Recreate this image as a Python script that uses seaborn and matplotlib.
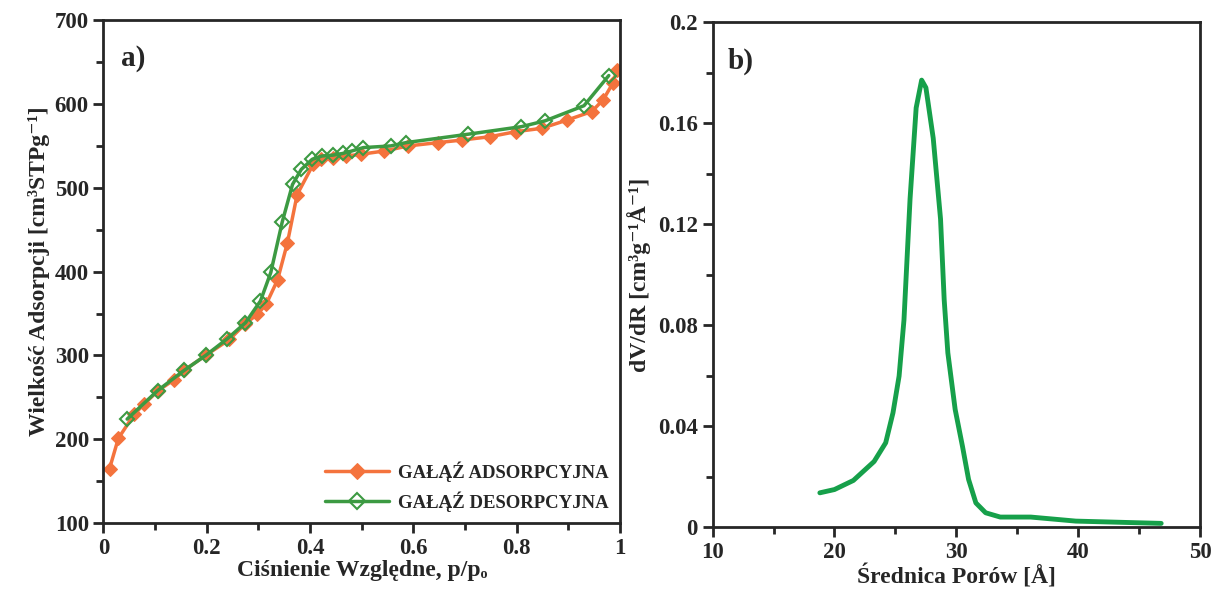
import numpy as np
import pandas as pd
import seaborn as sns
import matplotlib.pyplot as plt
from matplotlib.ticker import MultipleLocator

# =========================
# Data
# =========================

# a) isotherm - adsorption branch
ads_p = [0.012, 0.029, 0.06, 0.079, 0.106, 0.137, 0.156, 0.198, 0.244, 0.275, 0.298,
         0.315, 0.337, 0.356, 0.375, 0.406, 0.421, 0.444, 0.47, 0.498, 0.544, 0.59,
         0.648, 0.694, 0.748, 0.798, 0.848, 0.898, 0.945, 0.967, 0.986, 0.994]
ads_v = [165, 201, 230, 242, 258, 271, 282, 300, 319, 338, 349,
         361, 390, 434, 492, 528, 534, 536, 538, 540, 544, 550,
         554, 557, 561, 567, 571, 581, 591, 605, 625, 641]

# a) isotherm - desorption branch
des_p = [0.046, 0.105, 0.156, 0.198, 0.24, 0.275, 0.304, 0.324, 0.346, 0.366, 0.383,
         0.404, 0.423, 0.444, 0.463, 0.481, 0.503, 0.556, 0.586, 0.706, 0.809, 0.855,
         0.93, 0.978]
des_v = [224, 258, 282, 300, 320, 339, 365, 399, 459, 504, 522,
         534, 538, 539, 541, 544, 548, 550, 554, 564, 573, 580,
         598, 634]

# b) pore size distribution
pore_d = [18.8, 20.0, 21.55, 23.25, 24.2, 24.8, 25.3, 25.7, 26.2, 26.7, 27.15, 27.5,
          28.1, 28.7, 29.0, 29.3, 29.9, 30.5, 31.0, 31.6, 32.4, 33.6, 36.1, 39.8,
          42.9, 46.8]
pore_dvdr = [0.0136, 0.0149, 0.0185, 0.026, 0.0334, 0.0453, 0.0598, 0.082, 0.130,
             0.166, 0.177, 0.174, 0.154, 0.122, 0.090, 0.069, 0.0466, 0.032, 0.0189,
             0.0096, 0.0057, 0.004, 0.004, 0.0024, 0.002, 0.0015]

ORANGE = '#F4733D'
GREEN = '#3C9A42'
GREEN_B = '#16A04A'

# =========================
# Plot
# =========================
sns.set_style('ticks')
plt.rcParams['font.family'] = ['Liberation Serif', 'DejaVu Serif']
plt.rcParams['font.weight'] = 'bold'
plt.rcParams['axes.labelweight'] = 'bold'

fig = plt.figure(figsize=(12.16, 5.95), dpi=100)
ax1 = fig.add_axes([0.085, 0.121, 0.425, 0.845])
ax2 = fig.add_axes([0.586, 0.114, 0.401, 0.849])

ads_df = pd.DataFrame({'p': ads_p, 'v': ads_v})
des_df = pd.DataFrame({'p': des_p, 'v': des_v})
psd_df = pd.DataFrame({'d': pore_d, 'y': pore_dvdr})

sns.lineplot(data=ads_df, x='p', y='v', ax=ax1, color=ORANGE, lw=2.5,
             marker='D', markersize=7, markerfacecolor=ORANGE, markeredgecolor=ORANGE,
             label='GAŁĄŹ ADSORPCYJNA', sort=False)
sns.lineplot(data=des_df, x='p', y='v', ax=ax1, color=GREEN, lw=2.5,
             marker='D', markersize=7, markerfacecolor='none', markeredgecolor=GREEN,
             markeredgewidth=1.5, label='GAŁĄŹ DESORPCYJNA', sort=False)

sns.lineplot(data=psd_df, x='d', y='y', ax=ax2, color=GREEN_B, lw=3.5, sort=False)

# axes styling
def style_axes(ax):
    for s in ax.spines.values():
        s.set_linewidth(2)
        s.set_visible(True)
    ax.tick_params(which='major', direction='out', length=7, width=2, labelsize=16.5)
    ax.tick_params(which='minor', direction='out', length=5, width=2)
    for lab in ax.get_xticklabels() + ax.get_yticklabels():
        lab.set_fontweight('bold')

ax1.set_xlim(0, 1)
ax1.set_ylim(100, 700)
ax1.xaxis.set_minor_locator(MultipleLocator(0.1))
ax1.yaxis.set_major_locator(MultipleLocator(100))
ax1.yaxis.set_minor_locator(MultipleLocator(50))
ax1.set_xticks([0, 0.2, 0.4, 0.6, 0.8, 1.0])
ax1.set_xticklabels(['0', '0.2', '0.4', '0.6', '0.8', '1'])
ax1.set_xlabel('Ciśnienie Względne, p/pₒ', fontsize=17, labelpad=1)
ax1.set_ylabel('Wielkość Adsorpcji [cm³STPg⁻¹]', fontsize=17, labelpad=3)
ax1.text(0.035, 0.95, 'a)', transform=ax1.transAxes, fontsize=21, fontweight='bold', va='top')
style_axes(ax1)
leg = ax1.legend(loc='lower right', frameon=False, fontsize=13.5, handlelength=3.4,
                 borderaxespad=0.2, labelspacing=0.5, handletextpad=0.5,
                 markerscale=1.1)
for t in leg.get_texts():
    t.set_fontweight('bold')

ax2.set_xlim(10, 50)
ax2.set_ylim(0, 0.2)
ax2.xaxis.set_major_locator(MultipleLocator(10))
ax2.xaxis.set_minor_locator(MultipleLocator(5))
ax2.set_yticks([0, 0.04, 0.08, 0.12, 0.16, 0.2])
ax2.set_yticklabels(['0', '0.04', '0.08', '0.12', '0.16', '0.2'])
ax2.yaxis.set_minor_locator(MultipleLocator(0.02))
ax2.set_xlabel('Średnica Porów [Å]', fontsize=17, labelpad=1)
ax2.set_ylabel('dV/dR [cm³g⁻¹Å⁻¹]', fontsize=17, labelpad=5)
ax2.text(0.03, 0.95, 'b)', transform=ax2.transAxes, fontsize=21, fontweight='bold', va='top')
style_axes(ax2)

fig.savefig('out.png', dpi=100)
